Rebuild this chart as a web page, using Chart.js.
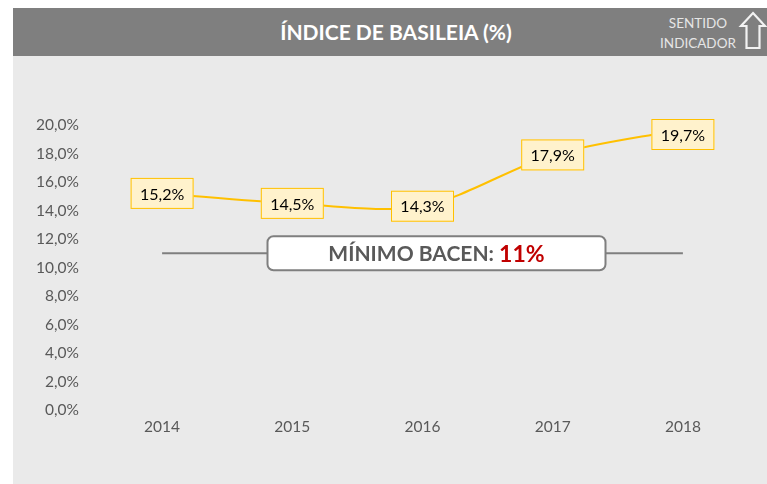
<!DOCTYPE html>
<html lang="pt-BR">
<head>
<meta charset="utf-8">
<title>Índice de Basileia</title>
<script src="https://cdn.jsdelivr.net/npm/chart.js@4.4.1/dist/chart.umd.min.js"></script>
<style>
  html, body { margin: 0; padding: 0; background: #ffffff; }
  body { width: 767px; height: 484px; position: relative; overflow: hidden; font-family: Lato, "Open Sans", sans-serif; }
  #panel { position: absolute; left: 13px; top: 8px; width: 754px; height: 476px; background: #EAEAEA; }
  #titlebar { position: absolute; left: 13px; top: 8px; width: 754px; height: 48px; background: #7F7F7F; }
  #title { position: absolute; left: 19px; top: 8px; width: 754px; height: 48px; line-height: 48px;
           text-align: center; color: #ffffff; font-weight: bold; font-size: 21px; }
  #sentido { position: absolute; left: 648px; top: 13px; width: 100px; text-align: center;
             color: #E6E6E6; font-size: 13.5px; line-height: 20px; }
  #arrow { position: absolute; left: 738px; top: 10px; }
  #chart { position: absolute; left: 0; top: 0; }
</style>
</head>
<body>
<div id="panel"></div>
<div id="titlebar"></div>
<div id="title">ÍNDICE DE BASILEIA (%)</div>
<div id="sentido">SENTIDO<br>INDICADOR</div>
<svg id="arrow" width="30" height="42" viewBox="0 0 30 42">
  <path d="M15 3 L27 16 L21.5 16 L21.5 38 L8.5 38 L8.5 16 L3 16 Z" fill="none" stroke="#F2F2F2" stroke-width="2.2" stroke-linejoin="miter"/>
</svg>
<canvas id="chart" width="767" height="484"></canvas>
<script>
// Anos e índice de Basileia (%)
const anos = ['2014', '2015', '2016', '2017', '2018'];
const indiceBasileia = [15.2, 14.5, 14.3, 17.9, 19.7];
// Mínimo exigido pelo Bacen (%)
const minimoBacen = 11;
const linhaMinimo = anos.map(() => minimoBacen);

const FONT = 'Lato, "Open Sans", sans-serif';
const fmt1 = v => v.toFixed(1).replace('.', ',') + '%';

function roundRect(ctx, x, y, w, h, r) {
  ctx.beginPath();
  ctx.moveTo(x + r, y);
  ctx.lineTo(x + w - r, y);
  ctx.arcTo(x + w, y, x + w, y + r, r);
  ctx.lineTo(x + w, y + h - r);
  ctx.arcTo(x + w, y + h, x + w - r, y + h, r);
  ctx.lineTo(x + r, y + h);
  ctx.arcTo(x, y + h, x, y + h - r, r);
  ctx.lineTo(x, y + r);
  ctx.arcTo(x, y, x + r, y, r);
  ctx.closePath();
}

// Rótulos de valor e caixa do mínimo regulatório
const rotulos = {
  id: 'rotulos',
  afterDatasetsDraw(chart) {
    const ctx = chart.ctx;
    const area = chart.chartArea;
    const yScale = chart.scales.y;

    // caixa "MÍNIMO BACEN"
    const ref = chart.getDatasetMeta(1).data;
    const cx = (ref[0].x + ref[ref.length - 1].x) / 2 + 14;
    const cy = yScale.getPixelForValue(minimoBacen);
    const bw = 338, bh = 34;
    ctx.save();
    roundRect(ctx, cx - bw / 2, cy - bh / 2, bw, bh, 6);
    ctx.fillStyle = '#ffffff';
    ctx.fill();
    ctx.lineWidth = 2;
    ctx.strokeStyle = '#7F7F7F';
    ctx.stroke();
    const t1 = 'MÍNIMO BACEN: ';
    const t2 = minimoBacen + '%';
    const f1 = 'bold 21px ' + FONT;
    const f2 = 'bold 23px ' + FONT;
    ctx.font = f1; const w1 = ctx.measureText(t1).width;
    ctx.font = f2; const w2 = ctx.measureText(t2).width;
    let tx = cx - (w1 + w2) / 2;
    ctx.textBaseline = 'middle';
    ctx.textAlign = 'left';
    ctx.font = f1; ctx.fillStyle = '#595959'; ctx.fillText(t1, tx, cy + 1);
    ctx.font = f2; ctx.fillStyle = '#C00000'; ctx.fillText(t2, tx + w1, cy + 1);
    ctx.restore();

    // rótulos dos pontos
    const pts = chart.getDatasetMeta(0).data;
    ctx.save();
    ctx.font = '16px ' + FONT;
    ctx.textAlign = 'center';
    ctx.textBaseline = 'middle';
    pts.forEach((p, i) => {
      const w = 63, h = 31;
      let top = p.y - h / 2;
      if (top < area.top - 6) top = area.top - 6;
      const left = p.x - w / 2;
      ctx.fillStyle = '#FFF2CC';
      ctx.fillRect(left, top, w, h);
      ctx.lineWidth = 1;
      ctx.strokeStyle = '#FFC000';
      ctx.strokeRect(left + 0.5, top + 0.5, w - 1, h - 1);
      ctx.fillStyle = '#000000';
      ctx.fillText(fmt1(indiceBasileia[i]), p.x, top + h / 2 + 1);
    });
    ctx.restore();
  }
};

new Chart(document.getElementById('chart'), {
  type: 'line',
  data: {
    labels: anos,
    datasets: [
      {
        label: 'Índice de Basileia',
        data: indiceBasileia,
        borderColor: '#FFC000',
        borderWidth: 2,
        pointRadius: 0,
        tension: 0.3,
        fill: false
      },
      {
        label: 'Mínimo Bacen',
        data: linhaMinimo,
        borderColor: '#7F7F7F',
        borderWidth: 2,
        pointRadius: 0,
        fill: false
      }
    ]
  },
  options: {
    responsive: false,
    animation: false,
    events: [],
    layout: { padding: { top: 125, right: 19, left: 0, bottom: 0 } },
    plugins: { legend: { display: false }, tooltip: { enabled: false }, title: { display: false } },
    scales: {
      x: {
        offset: true,
        grid: { display: false, drawTicks: false },
        border: { display: false },
        ticks: { color: '#595959', font: { family: FONT, size: 15.5 }, padding: 8 },
        afterFit(scale) { scale.height = 74; }
      },
      y: {
        min: 0,
        max: 20,
        grid: { display: false, drawTicks: false },
        border: { display: false },
        ticks: {
          stepSize: 2,
          color: '#595959',
          font: { family: FONT, size: 15.5 },
          padding: 18,
          callback: v => fmt1(v)
        },
        afterFit(scale) { scale.width = 97; }
      }
    }
  },
  plugins: [rotulos]
});
</script>
</body>
</html>
